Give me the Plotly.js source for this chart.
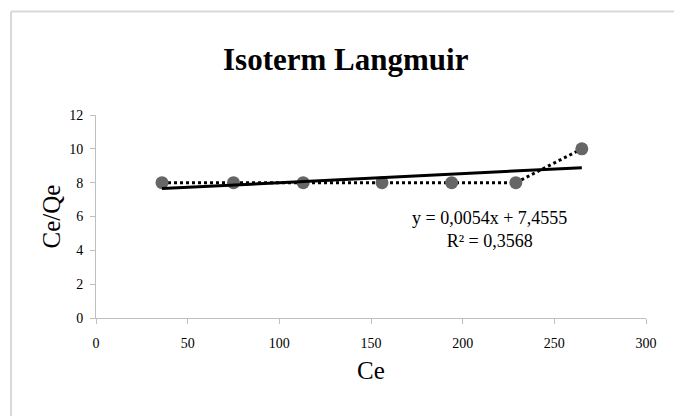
<!DOCTYPE html>
<html>
<head>
<meta charset="utf-8">
<script src="https://cdn.plot.ly/plotly-3.0.1.min.js"></script>
<style>html,body{margin:0;padding:0;background:#fff;}#chart{width:674px;height:416px;}</style>
</head>
<body>
<div id="chart"></div>
<script>
// Data
const ce = [36, 75, 113, 156, 194, 229, 265];
const ceQe = [8, 8, 8, 8, 8, 8, 10];
// Linear trendline coefficients (as printed on the chart)
const slope = 0.0054;
const intercept = 7.4555;
const trendX = [ce[0], ce[ce.length - 1]];
const trendY = trendX.map(x => slope * x + intercept);
const eqText = 'y = 0,0054x + 7,4555<br>R² = 0,3568';
const xTicks = [0, 50, 100, 150, 200, 250, 300];
const yTicks = [0, 2, 4, 6, 8, 10, 12];

const serif = 'Liberation Serif, Times New Roman, serif';
const traces = [
  {x: ce, y: ceQe, type: 'scatter', mode: 'lines+markers',
   line: {color: '#000', width: 3, dash: 'dot'},
   marker: {color: '#666666', size: 13}, hoverinfo: 'skip', showlegend: false},
  {x: trendX, y: trendY, type: 'scatter', mode: 'lines',
   line: {color: '#000', width: 3}, hoverinfo: 'skip', showlegend: false}
];
const borderColor = '#d9d9d9';
const layout = {
  width: 674, height: 416,
  margin: {l: 96, r: 28, t: 115, b: 98, pad: 0},
  paper_bgcolor: '#fff', plot_bgcolor: '#fff',
  font: {family: serif, color: '#000'},
  title: {text: '<b>Isoterm Langmuir</b>', font: {family: serif, size: 31, color: '#000'},
          x: 0.513, xanchor: 'center', y: 0.858, yanchor: 'middle'},
  xaxis: {range: [0, 300], tickvals: xTicks, ticktext: xTicks.map(String),
          showgrid: false, zeroline: false, showline: true, linecolor: '#bfbfbf', linewidth: 1,
          ticks: 'outside', ticklen: 5, tickcolor: '#bfbfbf', ticklabelstandoff: 7,
          tickfont: {family: serif, size: 14, color: '#000'},
          title: {text: 'Ce', font: {family: serif, size: 25, color: '#000'}, standoff: 11}},
  yaxis: {range: [0, 12], tickvals: yTicks, ticktext: yTicks.map(String),
          showgrid: false, zeroline: false, showline: true, linecolor: '#bfbfbf', linewidth: 1,
          ticks: 'outside', ticklen: 5, tickcolor: '#bfbfbf', ticklabelstandoff: 4,
          tickfont: {family: serif, size: 14, color: '#000'},
          title: {text: 'Ce/Qe', font: {family: serif, size: 25, color: '#000'}, standoff: 1}},
  annotations: [{text: eqText, xref: 'paper', yref: 'paper', x: 0.716, y: 0.436,
                 xanchor: 'center', yanchor: 'middle', showarrow: false, align: 'center',
                 font: {family: serif, size: 18, color: '#000'}}],
  shapes: [
    {type: 'line', xref: 'paper', yref: 'paper', x0: -0.1545, x1: -0.1545, y0: -0.49, y1: 1.51,
     line: {color: borderColor, width: 2}},
    {type: 'line', xref: 'paper', yref: 'paper', x0: -0.1545, x1: 1.06, y0: 1.51, y1: 1.51,
     line: {color: borderColor, width: 2}}
  ]
};
Plotly.newPlot('chart', traces, layout, {displayModeBar: false, staticPlot: true});
</script>
</body>
</html>
